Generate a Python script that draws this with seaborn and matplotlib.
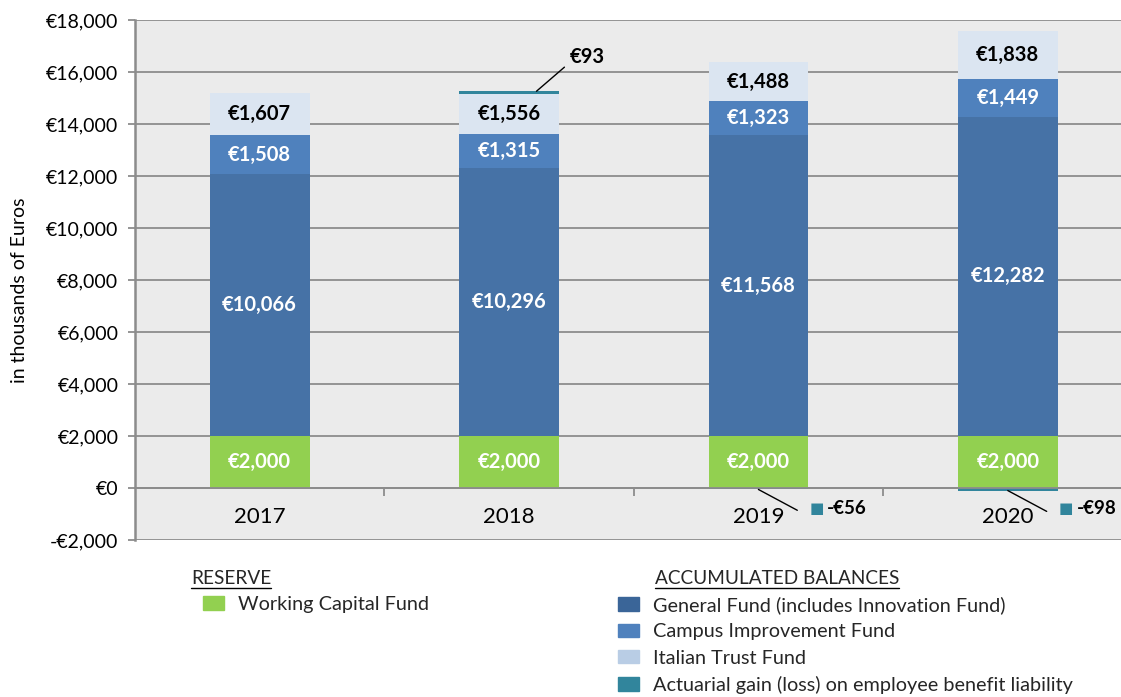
import numpy as np
import matplotlib
matplotlib.use("Agg")
import matplotlib.pyplot as plt
import seaborn as sns
from matplotlib.patches import Patch
from matplotlib.lines import Line2D
from matplotlib.ticker import FuncFormatter

# 数据（单位：千欧元）
years = ["2017", "2018", "2019", "2020"]
working_capital = [2000, 2000, 2000, 2000]
general_fund = [10066, 10296, 11568, 12282]
campus_fund = [1508, 1315, 1323, 1449]
italian_fund = [1607, 1556, 1488, 1838]
actuarial = [0, 93, -56, -98]

c_green = "#92d050"
c_general = "#4672a6"
c_campus = "#4f81bd"
c_italian = "#dbe5f1"
c_teal = "#31859c"
c_grid = "#8c8c8c"

sns.set_theme(style="white")
plt.rcParams["font.family"] = ["Lato", "DejaVu Sans"]

W, H = 1121, 697
fig = plt.figure(figsize=(W / 100, H / 100), dpi=100)
ax = fig.add_axes([135 / W, 157 / H, 1 - 135 / W, 520 / H])
ax.set_facecolor("#ebebeb")

# 堆叠：从上往下依次覆盖绘制累计值
pos_act = [max(a, 0) for a in actuarial]
neg_act = [min(a, 0) for a in actuarial]
layers = [working_capital, general_fund, campus_fund, italian_fund, pos_act]
layer_colors = [c_green, c_general, c_campus, c_italian, c_teal]
cum = np.cumsum(np.array(layers), axis=0)

for i in reversed(range(len(layers))):
    sns.barplot(x=years, y=cum[i], color=layer_colors[i], width=0.4,
                saturation=1, linewidth=0, ax=ax)
sns.barplot(x=years, y=neg_act, color=c_teal, width=0.4,
            saturation=1, linewidth=0, ax=ax)

# 段内数值标签
label_colors = ["white", "white", "white", "black"]
for i in range(4):
    for j, v in enumerate(layers[i]):
        ax.text(j, cum[i][j] - v / 2, f"€{v:,}", ha="center", va="center",
                fontsize=14.5, fontweight="bold", color=label_colors[i])

# 精算损益标注
for j, v in enumerate(actuarial):
    if v > 0:
        ax.annotate(f"€{v:,}", xy=(j + 0.11, cum[4][j]), xytext=(24, 25),
                    textcoords="offset points", ha="left", va="center",
                    fontsize=14.5, fontweight="bold", color="black",
                    arrowprops=dict(arrowstyle="-", color="black", lw=1,
                                    relpos=(0, 0.2), shrinkA=2, shrinkB=0))
    elif v < 0:
        ax.annotate("", xy=(j, v), xytext=(28, -15), textcoords="offset points",
                    arrowprops=dict(arrowstyle="-", color="black", lw=1,
                                    shrinkA=0, shrinkB=0))
        ax.annotate("■", xy=(j, 0), xytext=(42, -15), textcoords="offset points",
                    ha="center", va="center", fontsize=11, color=c_teal,
                    family="DejaVu Sans")
        ax.annotate(f"-€{-v:,}", xy=(j, 0), xytext=(49.5, -15),
                    textcoords="offset points", ha="left", va="center",
                    fontsize=13.5, fontweight="bold", color="black")

# 坐标轴
ax.set_ylim(-2000, 18000)
ax.set_yticks(range(-2000, 18001, 2000))
ax.yaxis.set_major_formatter(FuncFormatter(
    lambda v, p: f"-€{-int(v):,}" if v < 0 else f"€{int(v):,}"))
ax.set_xlim(-0.5, 3.454)
ax.set_axisbelow(True)
ax.yaxis.grid(True, color=c_grid, lw=1.3)
ax.xaxis.grid(False)

for s in ["top", "right"]:
    ax.spines[s].set_visible(False)
ax.spines["left"].set_color(c_grid)
ax.spines["left"].set_linewidth(1.8)
ax.spines["bottom"].set_position(("data", 0))
ax.spines["bottom"].set_color(c_grid)
ax.spines["bottom"].set_linewidth(1.3)

ax.tick_params(axis="y", direction="out", length=5, width=1.3, color=c_grid,
               labelsize=14, labelcolor="black", pad=7, left=True)
ax.set_xticks(range(4))
ax.set_xticklabels(years)
ax.set_xticks([0.5, 1.5, 2.5], minor=True)
ax.tick_params(axis="x", which="major", length=0, labelsize=16,
               labelcolor="black", pad=14)
ax.tick_params(axis="x", which="minor", direction="out", length=6, width=1.3,
               color=c_grid, bottom=True)
ax.set_xlabel("")
ax.set_ylabel("")

fig.text(20 / W, 1 - 290 / H, "in thousands of Euros", rotation=90,
         ha="center", va="center", fontsize=14, color="black")

# 图例
headings = [fig.text(191 / W, 1 - 578 / H, "RESERVE", ha="left", va="center",
                     fontsize=13.7),
            fig.text(655 / W, 1 - 578 / H, "ACCUMULATED BALANCES", ha="left",
                     va="center", fontsize=13.7)]

leg_kw = dict(loc="upper left", frameon=False, fontsize=14.3, handlelength=1.05,
              handleheight=0.65, handletextpad=0.72, labelspacing=0.47,
              borderaxespad=0, borderpad=0)
fig.legend(handles=[Patch(color=c_green)], labels=["Working Capital Fund"],
           bbox_to_anchor=(203 / W, 1 - 596 / H), **leg_kw)
fig.legend(handles=[Patch(color="#3a6598"), Patch(color=c_campus),
                    Patch(color="#b9cde5"), Patch(color=c_teal)],
           labels=["General Fund (includes Innovation Fund)",
                   "Campus Improvement Fund", "Italian Trust Fund",
                   "Actuarial gain (loss) on employee benefit liability"],
           bbox_to_anchor=(618 / W, 1 - 596 / H), **leg_kw)

# 标题下划线
fig.canvas.draw()
r = fig.canvas.get_renderer()
for t in headings:
    bb = t.get_window_extent(r)
    y = (bb.y0 - 1) / H
    fig.add_artist(Line2D([bb.x0 / W, bb.x1 / W], [y, y], color="black", lw=1))

fig.savefig("out.png", dpi=100)
